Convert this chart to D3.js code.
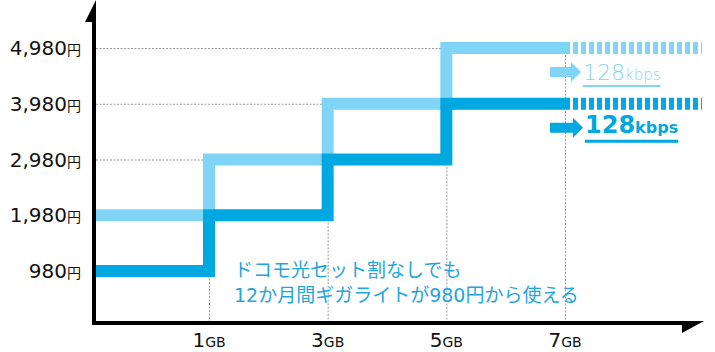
<!DOCTYPE html>
<html>
<head>
<meta charset="utf-8">
<script src="https://cdn.jsdelivr.net/npm/d3@7"></script>
<style>
  body { margin: 0; background: #fff; }
  svg { display: block; }
  text { font-family: "DejaVu Sans", "Noto Sans CJK JP", sans-serif; }
</style>
</head>
<body>
<div id="chart"></div>
<script>
// data
var priceTicks = [980, 1980, 2980, 3980, 4980];
var gbTicks = [1, 3, 5, 7];
// step points: gb where the price starts, price
var lightSteps = [[0, 1980], [1, 2980], [3, 3980], [5, 4980], [7, 4980]];
var darkSteps = [[0, 980], [1, 1980], [3, 2980], [5, 3980], [7, 3980]];
var speedLabel = "128";
var speedUnit = "kbps";
var noteLines = ["ドコモ光セット割なしでも", "12か月間ギガライトが980円から使える"];

var width = 715, height = 352;
var axisX = 94, axisY = 323;
var lightColor = "#80d5f7", darkColor = "#00a8e2", noteColor = "#1fa5df";

var svg = d3.select("#chart").append("svg")
  .attr("width", width)
  .attr("height", height);

var x = d3.scaleLinear().domain([1, 7]).range([209, 565]);
var y = d3.scaleLinear().domain([980, 4980]).range([271, 48]);

function px(gb) { return gb === 0 ? axisX : x(gb); }

// dotted grid, only up to where the light line gets there
var grid = svg.append("g").attr("stroke", "#9a9a9a").attr("stroke-width", 1)
  .attr("stroke-dasharray", "2,1.5");
lightSteps.slice(1, 4).forEach(function(d) {
  grid.append("line")
    .attr("x1", axisX + 2).attr("x2", x(d[0]))
    .attr("y1", y(d[1]) + 0.5).attr("y2", y(d[1]) + 0.5);
});
gbTicks.forEach(function(g) {
  var v = lightSteps.filter(function(d) { return d[0] <= g; }).pop()[1];
  grid.append("line")
    .attr("x1", x(g) + 0.5).attr("x2", x(g) + 0.5)
    .attr("y1", y(v)).attr("y2", axisY - 2);
});

var step = d3.line()
  .x(function(d) { return px(d[0]); })
  .y(function(d) { return y(d[1]); })
  .curve(d3.curveStepAfter);

function drawSeries(steps, color) {
  svg.append("path")
    .attr("d", step(steps))
    .attr("fill", "none")
    .attr("stroke", color)
    .attr("stroke-width", 12)
    .attr("stroke-linejoin", "miter");
  var last = steps[steps.length - 1];
  svg.append("line")
    .attr("x1", x(last[0])).attr("x2", 702)
    .attr("y1", y(last[1])).attr("y2", y(last[1]))
    .attr("stroke", color)
    .attr("stroke-width", 12)
    .attr("stroke-dasharray", "5,3");
}
drawSeries(lightSteps, lightColor);
drawSeries(darkSteps, darkColor);

// little arrows with speed labels
function drawArrow(yc, color, bold) {
  var x0 = 550, bodyEnd = bold ? 573 : 571, tip = bold ? 583 : 581;
  svg.append("path")
    .attr("d", "M" + x0 + "," + (yc - 5) + "H" + bodyEnd + "V" + (yc - 10) +
      "L" + tip + "," + yc + "L" + bodyEnd + "," + (yc + 10) + "V" + (yc + 5) +
      "H" + x0 + "Z")
    .attr("fill", color);
  var t = svg.append("text")
    .attr("x", tip + 2)
    .attr("y", yc + (bold ? 5 : 8))
    .attr("fill", color)
    .attr("font-weight", bold ? 700 : 300);
  t.append("tspan").attr("font-size", bold ? 24 : 22).text(speedLabel);
  t.append("tspan").attr("font-size", bold ? 16 : 15).text(speedUnit);
  var bb = t.node().getBBox();
  svg.append("rect")
    .attr("x", bb.x).attr("width", bb.width)
    .attr("y", yc + (bold ? 12 : 13)).attr("height", bold ? 3 : 2)
    .attr("fill", color);
}
var lastLight = lightSteps[lightSteps.length - 1][1];
var lastDark = darkSteps[darkSteps.length - 1][1];
drawArrow(y(lastLight) + 24, lightColor, false);
drawArrow(y(lastDark) + 24, darkColor, true);

// axes
svg.append("rect").attr("x", axisX - 2).attr("y", 10).attr("width", 4)
  .attr("height", axisY + 2 - 10).attr("fill", "#000");
svg.append("path").attr("d", "M96,0L85,22H96Z").attr("fill", "#000");
svg.append("rect").attr("x", axisX - 2).attr("y", axisY - 2).attr("width", 690 - axisX)
  .attr("height", 4).attr("fill", "#000");
svg.append("path").attr("d", "M704,321L682,333V321Z").attr("fill", "#000");

// y tick labels
svg.append("g").selectAll("text")
  .data(priceTicks)
  .enter()
  .append("text")
  .attr("x", 81)
  .attr("y", function(d) { return y(d) + 7; })
  .attr("text-anchor", "end")
  .attr("fill", "#111")
  .each(function(d) {
    var t = d3.select(this);
    t.append("tspan").attr("font-size", 20).text(d3.format(",")(d));
    t.append("tspan").attr("font-size", 14).attr("font-family", "Noto Sans CJK JP").text("円");
  });

// x tick labels
svg.append("g").selectAll("text")
  .data(gbTicks)
  .enter()
  .append("text")
  .attr("x", function(d) { return x(d); })
  .attr("y", 347)
  .attr("text-anchor", "middle")
  .attr("fill", "#111")
  .each(function(d) {
    var t = d3.select(this);
    t.append("tspan").attr("font-size", 20).text(d);
    t.append("tspan").attr("font-size", 14).text("GB");
  });

// note
svg.append("g").selectAll("text")
  .data(noteLines)
  .enter()
  .append("text")
  .attr("x", 234)
  .attr("y", function(d, i) { return 277 + i * 25; })
  .attr("font-size", 19)
  .attr("fill", noteColor)
  .text(function(d) { return d; });
</script>
</body>
</html>
